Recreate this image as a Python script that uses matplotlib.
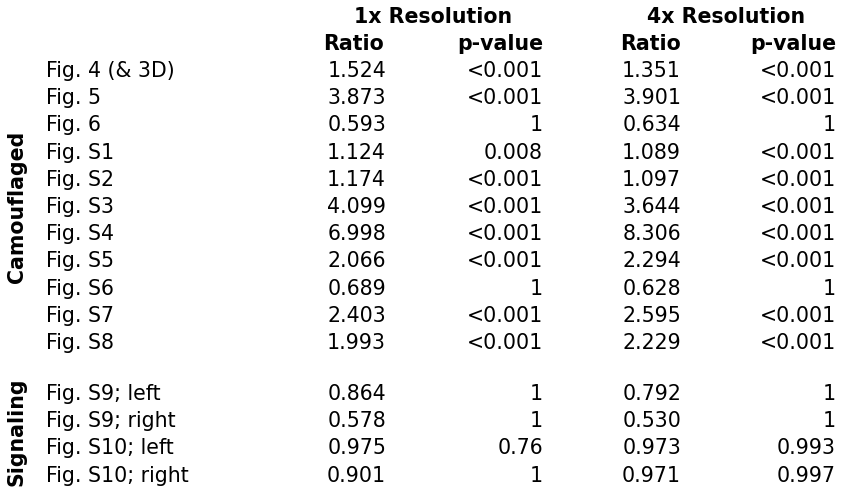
import matplotlib
matplotlib.use("Agg")
import matplotlib.pyplot as plt

# table data
camo_labels = ["Fig. 4 (& 3D)", "Fig. 5", "Fig. 6", "Fig. S1", "Fig. S2", "Fig. S3",
               "Fig. S4", "Fig. S5", "Fig. S6", "Fig. S7", "Fig. S8"]
camo_ratio_1x = ["1.524", "3.873", "0.593", "1.124", "1.174", "4.099",
                 "6.998", "2.066", "0.689", "2.403", "1.993"]
camo_p_1x = ["<0.001", "<0.001", "1", "0.008", "<0.001", "<0.001",
             "<0.001", "<0.001", "1", "<0.001", "<0.001"]
camo_ratio_4x = ["1.351", "3.901", "0.634", "1.089", "1.097", "3.644",
                 "8.306", "2.294", "0.628", "2.595", "2.229"]
camo_p_4x = ["<0.001", "<0.001", "1", "<0.001", "<0.001", "<0.001",
             "<0.001", "<0.001", "1", "<0.001", "<0.001"]

sig_labels = ["Fig. S9; left", "Fig. S9; right", "Fig. S10; left", "Fig. S10; right"]
sig_ratio_1x = ["0.864", "0.578", "0.975", "0.901"]
sig_p_1x = ["1", "1", "0.76", "1"]
sig_ratio_4x = ["0.792", "0.530", "0.973", "0.971"]
sig_p_4x = ["1", "1", "0.993", "0.997"]

W, H = 846, 503
fig = plt.figure(figsize=(W / 100, H / 100), dpi=100)
fig.patch.set_facecolor("white")

FS = 14.8
family = "DejaVu Sans"


def put(x, y, s, ha="left", bold=False, rot=0):
    # pixel coords (top-left origin) -> figure fraction
    fig.text(x / W, 1 - y / H, s, ha=ha, va="center", fontsize=FS,
             fontweight="bold" if bold else "normal", rotation=rot,
             family=family, color="black")


# headers
put(433, 17, "1x Resolution", ha="center", bold=True)
put(726, 17, "4x Resolution", ha="center", bold=True)
col_x = [386, 543, 681, 836]
put(384, 44, "Ratio", ha="right", bold=True)
put(col_x[1], 44, "p-value", ha="right", bold=True)
put(col_x[2], 44, "Ratio", ha="right", bold=True)
put(col_x[3], 44, "p-value", ha="right", bold=True)

label_x = 46
row_h = 27.2


def block(y0, labels, cols):
    for i, lab in enumerate(labels):
        y = y0 + i * row_h
        put(label_x, y, lab)
        for x, vals in zip(col_x, cols):
            put(x, y, vals[i], ha="right")


block(71, camo_labels, [camo_ratio_1x, camo_p_1x, camo_ratio_4x, camo_p_4x])
block(394, sig_labels, [sig_ratio_1x, sig_p_1x, sig_ratio_4x, sig_p_4x])

# group labels
put(17, 207, "Camouflaged", ha="center", bold=True, rot=90)
put(17, 432, "Signaling", ha="center", bold=True, rot=90)

fig.savefig("out.png", dpi=100, facecolor="white")
